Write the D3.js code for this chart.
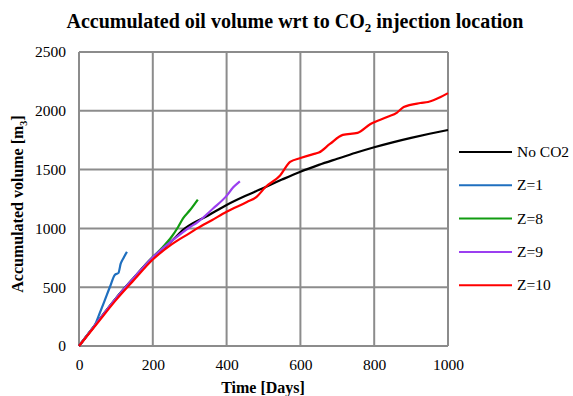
<!DOCTYPE html>
<html><head><meta charset="utf-8">
<script src="https://cdn.jsdelivr.net/npm/d3@7"></script>
<style>body{margin:0;background:#fff}svg{display:block}svg text{font-family:"Liberation Serif","Times New Roman",Times,serif !important}</style>
</head><body><svg id="c" width="573" height="396"></svg>
<script>
const seriesNames = ["No CO2","Z=1","Z=8","Z=9","Z=10"];
const seriesColors = ["#000000","#1f6fbf","#119c11","#9b3ff0","#ff0000"];
const noCO2 = [[0,0],[50,205],[100,405],[150,585],[192,731],[250,890],[287,1000],[350,1110],[400,1199],[450,1275],[490,1330],[550,1415],[600,1482],[650,1540],[700,1592],[750,1643],[800,1690],[850,1732],[900,1770],[950,1805],[1000,1837]];
const z1 = [[0,0],[25,103],[43,178],[55,270],[70,390],[84,504],[97,604],[107,622],[113,700],[120,745],[130,800]];
const z8 = [[0,0],[50,205],[100,405],[150,585],[200,757],[228,844],[251,929],[269,1014],[282,1085],[301,1156],[322,1245]];
const z9 = [[0,0],[50,205],[100,405],[150,585],[200,755],[250,890],[300,1010],[320,1050],[364,1171],[398,1270],[418,1349],[436,1400]];
const z10 = [[0,0],[50,195],[100,390],[150,565],[200,735],[250,862],[300,960],[320,1000],[360,1070],[400,1142],[455,1225],[482,1270],[505,1350],[545,1450],[572,1565],[600,1598],[635,1632],[650,1645],[680,1718],[715,1795],[755,1812],[790,1888],[835,1947],[862,1985],[880,2032],[925,2066],[946,2075],[980,2117],[1000,2150]];
const seriesData = [noCO2, z1, z8, z9, z10];
const xTicks = [0,200,400,600,800,1000];
const yTicks = [0,500,1000,1500,2000,2500];

const svg = d3.select("#c");
const x = d3.scaleLinear().domain([0,1000]).range([79,448]);
const y = d3.scaleLinear().domain([0,2500]).range([346,52]);
const grid = "#8c8c8c";

// grid
svg.append("g").selectAll("line").data(xTicks).join("line")
  .attr("x1",d=>x(d)).attr("x2",d=>x(d)).attr("y1",y(0)).attr("y2",y(2500))
  .attr("stroke",grid).attr("stroke-width",2);
svg.append("g").selectAll("line").data(yTicks).join("line")
  .attr("x1",x(0)).attr("x2",x(1000)).attr("y1",d=>y(d)).attr("y2",d=>y(d))
  .attr("stroke",grid).attr("stroke-width",2);

// axes labels
const xa = svg.append("g").attr("transform",`translate(0,${y(0)})`)
  .call(d3.axisBottom(x).tickValues(xTicks).tickSize(0).tickPadding(13).tickFormat(d3.format("d")));
xa.select(".domain").remove();
xa.attr("font-family","Liberation Serif").attr("font-size",15.5);
xa.selectAll("text").attr("fill","#000");
const ya = svg.append("g").attr("transform",`translate(${x(0)},0)`)
  .call(d3.axisLeft(y).tickValues(yTicks).tickSize(0).tickPadding(13).tickFormat(d3.format("d")));
ya.select(".domain").remove();
ya.attr("font-family","Liberation Serif").attr("font-size",15.5);
ya.selectAll("text").attr("fill","#000");

// lines
const line = d3.line().x(d=>x(d[0])).y(d=>y(d[1])).curve(d3.curveMonotoneX);
svg.append("g").selectAll("path").data(seriesData).join("path")
  .attr("d",line).attr("fill","none")
  .attr("stroke",(d,i)=>seriesColors[i]).attr("stroke-width",2.2);

// title
const t = svg.append("text").attr("x",295).attr("y",28).attr("text-anchor","middle")
  .attr("font-size",20).attr("font-weight","bold");
t.append("tspan").text("Accumulated oil volume wrt to CO");
t.append("tspan").attr("font-size",13).attr("dy",4).text("2");
t.append("tspan").attr("dy",-4).text(" injection location");

// axis titles
svg.append("text").attr("x",263).attr("y",393).attr("text-anchor","middle")
  .attr("font-size",16).attr("font-weight","bold").text("Time [Days]");
const yl = svg.append("text").attr("transform","translate(23,204) rotate(-90)").attr("text-anchor","middle")
  .attr("font-size",16).attr("font-weight","bold");
yl.append("tspan").text("Accumulated volume [m");
yl.append("tspan").attr("font-size",10).attr("dy",4).text("3");
yl.append("tspan").attr("dy",-4).text("]");

// legend
const lg = svg.append("g").selectAll("g").data(seriesNames).join("g")
  .attr("transform",(d,i)=>`translate(459,${152+i*33.3})`);
lg.append("line").attr("x1",0).attr("x2",53).attr("stroke",(d,i)=>seriesColors[i]).attr("stroke-width",2);
lg.append("text").attr("x",58).attr("y",5).attr("font-size",15.5).text(d=>d);
</script></body></html>
